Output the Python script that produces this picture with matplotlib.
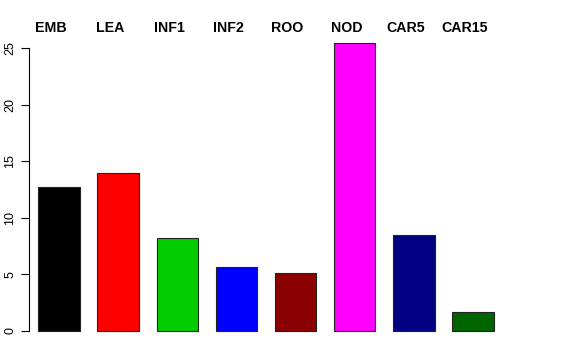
import matplotlib
matplotlib.use("Agg")
import matplotlib.pyplot as plt
import matplotlib.transforms as mtransforms
import numpy as np

plt.rcParams["font.family"] = ["Liberation Sans", "DejaVu Sans"]

categories = ["EMB", "LEA", "INF1", "INF2", "ROO", "NOD", "CAR5", "CAR15"]
values = [12.7, 14.0, 8.2, 5.65, 5.1, 25.45, 8.45, 1.65]
colors = ["#000000", "#FF0000", "#00CD00", "#0000FF", "#8B0000", "#FF00FF", "#000080", "#006400"]

W, H = 576, 360
fig = plt.figure(figsize=(W / 100, H / 100), dpi=100)

# plot region in pixels (left, top, right, bottom)
L, T, R, B = 29, 31.5, 530, 342.5
ax = fig.add_axes([L / W, 1 - B / H, (R - L) / W, (B - T) / H])

x = np.arange(len(categories))
ax.bar(x, values, width=0.7, color=colors, edgecolor="#222222", linewidth=0.8)

ax.set_xlim(-0.507, -0.507 + (R - L) / 59.14)
ax.set_ylim(-1.02, 26.46)

for s in ["top", "right", "bottom"]:
    ax.spines[s].set_visible(False)
ax.spines["left"].set_bounds(0, 25)
ax.spines["left"].set_linewidth(0.8)
ax.set_xticks([])
ax.set_yticks([0, 5, 10, 15, 20, 25])
ax.tick_params(axis="y", length=6, width=0.8, labelsize=9, pad=3)
for lab in ax.get_yticklabels():
    lab.set_rotation(90)
    lab.set_va("center")

# group labels sit a little left of each bar centre, as in the original
trans = mtransforms.blended_transform_factory(ax.transData, fig.transFigure)
for xi, name in zip(x, categories):
    ax.text(xi - 0.135, 1 - 28 / H, name, transform=trans, ha="center", va="center",
            fontsize=10.2, fontweight="bold", clip_on=False)

fig.savefig("out.png", dpi=100, facecolor="white")
